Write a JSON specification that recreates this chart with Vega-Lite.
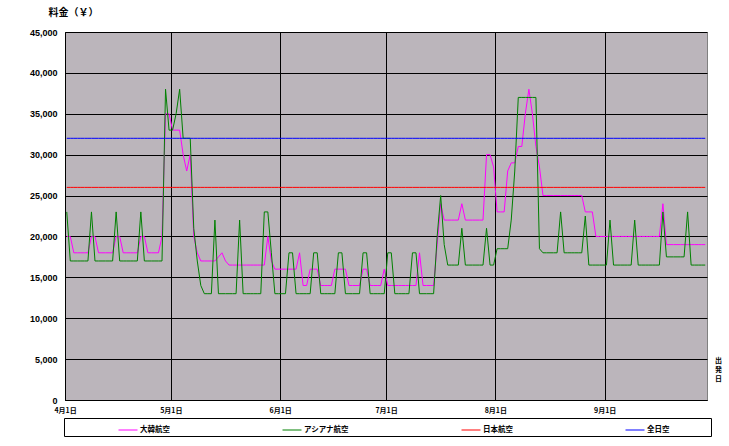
{
  "$schema": "https://vega.github.io/schema/vega-lite/v6.json",
  "autosize": "none",
  "width": 642,
  "height": 368,
  "padding": {"left": 65, "top": 32, "right": 22, "bottom": 46},
  "background": "white",
  "data": {"values": [
{"date":"2006/04/01","大韓航空":20000,"アシアナ航空":23000,"日本航空":26000,"全日空":32000},
{"date":"2006/04/02","大韓航空":20000,"アシアナ航空":17000,"日本航空":26000,"全日空":32000},
{"date":"2006/04/03","大韓航空":18000,"アシアナ航空":17000,"日本航空":26000,"全日空":32000},
{"date":"2006/04/04","大韓航空":18000,"アシアナ航空":17000,"日本航空":26000,"全日空":32000},
{"date":"2006/04/05","大韓航空":18000,"アシアナ航空":17000,"日本航空":26000,"全日空":32000},
{"date":"2006/04/06","大韓航空":18000,"アシアナ航空":17000,"日本航空":26000,"全日空":32000},
{"date":"2006/04/07","大韓航空":18000,"アシアナ航空":17000,"日本航空":26000,"全日空":32000},
{"date":"2006/04/08","大韓航空":20000,"アシアナ航空":23000,"日本航空":26000,"全日空":32000},
{"date":"2006/04/09","大韓航空":20000,"アシアナ航空":17000,"日本航空":26000,"全日空":32000},
{"date":"2006/04/10","大韓航空":18000,"アシアナ航空":17000,"日本航空":26000,"全日空":32000},
{"date":"2006/04/11","大韓航空":18000,"アシアナ航空":17000,"日本航空":26000,"全日空":32000},
{"date":"2006/04/12","大韓航空":18000,"アシアナ航空":17000,"日本航空":26000,"全日空":32000},
{"date":"2006/04/13","大韓航空":18000,"アシアナ航空":17000,"日本航空":26000,"全日空":32000},
{"date":"2006/04/14","大韓航空":18000,"アシアナ航空":17000,"日本航空":26000,"全日空":32000},
{"date":"2006/04/15","大韓航空":20000,"アシアナ航空":23000,"日本航空":26000,"全日空":32000},
{"date":"2006/04/16","大韓航空":20000,"アシアナ航空":17000,"日本航空":26000,"全日空":32000},
{"date":"2006/04/17","大韓航空":18000,"アシアナ航空":17000,"日本航空":26000,"全日空":32000},
{"date":"2006/04/18","大韓航空":18000,"アシアナ航空":17000,"日本航空":26000,"全日空":32000},
{"date":"2006/04/19","大韓航空":18000,"アシアナ航空":17000,"日本航空":26000,"全日空":32000},
{"date":"2006/04/20","大韓航空":18000,"アシアナ航空":17000,"日本航空":26000,"全日空":32000},
{"date":"2006/04/21","大韓航空":18000,"アシアナ航空":17000,"日本航空":26000,"全日空":32000},
{"date":"2006/04/22","大韓航空":20000,"アシアナ航空":23000,"日本航空":26000,"全日空":32000},
{"date":"2006/04/23","大韓航空":20000,"アシアナ航空":17000,"日本航空":26000,"全日空":32000},
{"date":"2006/04/24","大韓航空":18000,"アシアナ航空":17000,"日本航空":26000,"全日空":32000},
{"date":"2006/04/25","大韓航空":18000,"アシアナ航空":17000,"日本航空":26000,"全日空":32000},
{"date":"2006/04/26","大韓航空":18000,"アシアナ航空":17000,"日本航空":26000,"全日空":32000},
{"date":"2006/04/27","大韓航空":18000,"アシアナ航空":17000,"日本航空":26000,"全日空":32000},
{"date":"2006/04/28","大韓航空":20000,"アシアナ航空":17000,"日本航空":26000,"全日空":32000},
{"date":"2006/04/29","大韓航空":35000,"アシアナ航空":38000,"日本航空":26000,"全日空":32000},
{"date":"2006/04/30","大韓航空":35000,"アシアナ航空":33000,"日本航空":26000,"全日空":32000},
{"date":"2006/05/01","大韓航空":33000,"アシアナ航空":33000,"日本航空":26000,"全日空":32000},
{"date":"2006/05/02","大韓航空":33000,"アシアナ航空":35000,"日本航空":26000,"全日空":32000},
{"date":"2006/05/03","大韓航空":33000,"アシアナ航空":38000,"日本航空":26000,"全日空":32000},
{"date":"2006/05/04","大韓航空":30000,"アシアナ航空":32000,"日本航空":26000,"全日空":32000},
{"date":"2006/05/05","大韓航空":28000,"アシアナ航空":32000,"日本航空":26000,"全日空":32000},
{"date":"2006/05/06","大韓航空":30000,"アシアナ航空":32000,"日本航空":26000,"全日空":32000},
{"date":"2006/05/07","大韓航空":20000,"アシアナ航空":21000,"日本航空":26000,"全日空":32000},
{"date":"2006/05/08","大韓航空":18000,"アシアナ航空":17000,"日本航空":26000,"全日空":32000},
{"date":"2006/05/09","大韓航空":17000,"アシアナ航空":14000,"日本航空":26000,"全日空":32000},
{"date":"2006/05/10","大韓航空":17000,"アシアナ航空":13000,"日本航空":26000,"全日空":32000},
{"date":"2006/05/11","大韓航空":17000,"アシアナ航空":13000,"日本航空":26000,"全日空":32000},
{"date":"2006/05/12","大韓航空":17000,"アシアナ航空":13000,"日本航空":26000,"全日空":32000},
{"date":"2006/05/13","大韓航空":17000,"アシアナ航空":22000,"日本航空":26000,"全日空":32000},
{"date":"2006/05/14","大韓航空":17500,"アシアナ航空":13000,"日本航空":26000,"全日空":32000},
{"date":"2006/05/15","大韓航空":18000,"アシアナ航空":13000,"日本航空":26000,"全日空":32000},
{"date":"2006/05/16","大韓航空":17000,"アシアナ航空":13000,"日本航空":26000,"全日空":32000},
{"date":"2006/05/17","大韓航空":16500,"アシアナ航空":13000,"日本航空":26000,"全日空":32000},
{"date":"2006/05/18","大韓航空":16500,"アシアナ航空":13000,"日本航空":26000,"全日空":32000},
{"date":"2006/05/19","大韓航空":16500,"アシアナ航空":13000,"日本航空":26000,"全日空":32000},
{"date":"2006/05/20","大韓航空":16500,"アシアナ航空":22000,"日本航空":26000,"全日空":32000},
{"date":"2006/05/21","大韓航空":16500,"アシアナ航空":13000,"日本航空":26000,"全日空":32000},
{"date":"2006/05/22","大韓航空":16500,"アシアナ航空":13000,"日本航空":26000,"全日空":32000},
{"date":"2006/05/23","大韓航空":16500,"アシアナ航空":13000,"日本航空":26000,"全日空":32000},
{"date":"2006/05/24","大韓航空":16500,"アシアナ航空":13000,"日本航空":26000,"全日空":32000},
{"date":"2006/05/25","大韓航空":16500,"アシアナ航空":13000,"日本航空":26000,"全日空":32000},
{"date":"2006/05/26","大韓航空":16500,"アシアナ航空":13000,"日本航空":26000,"全日空":32000},
{"date":"2006/05/27","大韓航空":16500,"アシアナ航空":23000,"日本航空":26000,"全日空":32000},
{"date":"2006/05/28","大韓航空":20000,"アシアナ航空":23000,"日本航空":26000,"全日空":32000},
{"date":"2006/05/29","大韓航空":17000,"アシアナ航空":18000,"日本航空":26000,"全日空":32000},
{"date":"2006/05/30","大韓航空":16000,"アシアナ航空":13000,"日本航空":26000,"全日空":32000},
{"date":"2006/05/31","大韓航空":16000,"アシアナ航空":13000,"日本航空":26000,"全日空":32000},
{"date":"2006/06/01","大韓航空":16000,"アシアナ航空":13000,"日本航空":26000,"全日空":32000},
{"date":"2006/06/02","大韓航空":16000,"アシアナ航空":13000,"日本航空":26000,"全日空":32000},
{"date":"2006/06/03","大韓航空":16000,"アシアナ航空":18000,"日本航空":26000,"全日空":32000},
{"date":"2006/06/04","大韓航空":16000,"アシアナ航空":18000,"日本航空":26000,"全日空":32000},
{"date":"2006/06/05","大韓航空":16000,"アシアナ航空":13000,"日本航空":26000,"全日空":32000},
{"date":"2006/06/06","大韓航空":18000,"アシアナ航空":13000,"日本航空":26000,"全日空":32000},
{"date":"2006/06/07","大韓航空":14000,"アシアナ航空":13000,"日本航空":26000,"全日空":32000},
{"date":"2006/06/08","大韓航空":14000,"アシアナ航空":13000,"日本航空":26000,"全日空":32000},
{"date":"2006/06/09","大韓航空":16000,"アシアナ航空":13000,"日本航空":26000,"全日空":32000},
{"date":"2006/06/10","大韓航空":16000,"アシアナ航空":18000,"日本航空":26000,"全日空":32000},
{"date":"2006/06/11","大韓航空":16000,"アシアナ航空":18000,"日本航空":26000,"全日空":32000},
{"date":"2006/06/12","大韓航空":14000,"アシアナ航空":13000,"日本航空":26000,"全日空":32000},
{"date":"2006/06/13","大韓航空":14000,"アシアナ航空":13000,"日本航空":26000,"全日空":32000},
{"date":"2006/06/14","大韓航空":14000,"アシアナ航空":13000,"日本航空":26000,"全日空":32000},
{"date":"2006/06/15","大韓航空":14000,"アシアナ航空":13000,"日本航空":26000,"全日空":32000},
{"date":"2006/06/16","大韓航空":16000,"アシアナ航空":13000,"日本航空":26000,"全日空":32000},
{"date":"2006/06/17","大韓航空":16000,"アシアナ航空":18000,"日本航空":26000,"全日空":32000},
{"date":"2006/06/18","大韓航空":16000,"アシアナ航空":18000,"日本航空":26000,"全日空":32000},
{"date":"2006/06/19","大韓航空":16000,"アシアナ航空":13000,"日本航空":26000,"全日空":32000},
{"date":"2006/06/20","大韓航空":14000,"アシアナ航空":13000,"日本航空":26000,"全日空":32000},
{"date":"2006/06/21","大韓航空":14000,"アシアナ航空":13000,"日本航空":26000,"全日空":32000},
{"date":"2006/06/22","大韓航空":14000,"アシアナ航空":13000,"日本航空":26000,"全日空":32000},
{"date":"2006/06/23","大韓航空":14000,"アシアナ航空":13000,"日本航空":26000,"全日空":32000},
{"date":"2006/06/24","大韓航空":16000,"アシアナ航空":18000,"日本航空":26000,"全日空":32000},
{"date":"2006/06/25","大韓航空":16000,"アシアナ航空":18000,"日本航空":26000,"全日空":32000},
{"date":"2006/06/26","大韓航空":14000,"アシアナ航空":13000,"日本航空":26000,"全日空":32000},
{"date":"2006/06/27","大韓航空":14000,"アシアナ航空":13000,"日本航空":26000,"全日空":32000},
{"date":"2006/06/28","大韓航空":14000,"アシアナ航空":13000,"日本航空":26000,"全日空":32000},
{"date":"2006/06/29","大韓航空":14000,"アシアナ航空":13000,"日本航空":26000,"全日空":32000},
{"date":"2006/06/30","大韓航空":16000,"アシアナ航空":13000,"日本航空":26000,"全日空":32000},
{"date":"2006/07/01","大韓航空":14000,"アシアナ航空":18000,"日本航空":26000,"全日空":32000},
{"date":"2006/07/02","大韓航空":14000,"アシアナ航空":18000,"日本航空":26000,"全日空":32000},
{"date":"2006/07/03","大韓航空":14000,"アシアナ航空":13000,"日本航空":26000,"全日空":32000},
{"date":"2006/07/04","大韓航空":14000,"アシアナ航空":13000,"日本航空":26000,"全日空":32000},
{"date":"2006/07/05","大韓航空":14000,"アシアナ航空":13000,"日本航空":26000,"全日空":32000},
{"date":"2006/07/06","大韓航空":14000,"アシアナ航空":13000,"日本航空":26000,"全日空":32000},
{"date":"2006/07/07","大韓航空":14000,"アシアナ航空":13000,"日本航空":26000,"全日空":32000},
{"date":"2006/07/08","大韓航空":14000,"アシアナ航空":18000,"日本航空":26000,"全日空":32000},
{"date":"2006/07/09","大韓航空":14000,"アシアナ航空":18000,"日本航空":26000,"全日空":32000},
{"date":"2006/07/10","大韓航空":18000,"アシアナ航空":13000,"日本航空":26000,"全日空":32000},
{"date":"2006/07/11","大韓航空":14000,"アシアナ航空":13000,"日本航空":26000,"全日空":32000},
{"date":"2006/07/12","大韓航空":14000,"アシアナ航空":13000,"日本航空":26000,"全日空":32000},
{"date":"2006/07/13","大韓航空":14000,"アシアナ航空":13000,"日本航空":26000,"全日空":32000},
{"date":"2006/07/14","大韓航空":14000,"アシアナ航空":13000,"日本航空":26000,"全日空":32000},
{"date":"2006/07/15","大韓航空":19000,"アシアナ航空":20000,"日本航空":26000,"全日空":32000},
{"date":"2006/07/16","大韓航空":24000,"アシアナ航空":25000,"日本航空":26000,"全日空":32000},
{"date":"2006/07/17","大韓航空":22000,"アシアナ航空":19000,"日本航空":26000,"全日空":32000},
{"date":"2006/07/18","大韓航空":22000,"アシアナ航空":16500,"日本航空":26000,"全日空":32000},
{"date":"2006/07/19","大韓航空":22000,"アシアナ航空":16500,"日本航空":26000,"全日空":32000},
{"date":"2006/07/20","大韓航空":22000,"アシアナ航空":16500,"日本航空":26000,"全日空":32000},
{"date":"2006/07/21","大韓航空":22000,"アシアナ航空":16500,"日本航空":26000,"全日空":32000},
{"date":"2006/07/22","大韓航空":24000,"アシアナ航空":21000,"日本航空":26000,"全日空":32000},
{"date":"2006/07/23","大韓航空":22000,"アシアナ航空":16500,"日本航空":26000,"全日空":32000},
{"date":"2006/07/24","大韓航空":22000,"アシアナ航空":16500,"日本航空":26000,"全日空":32000},
{"date":"2006/07/25","大韓航空":22000,"アシアナ航空":16500,"日本航空":26000,"全日空":32000},
{"date":"2006/07/26","大韓航空":22000,"アシアナ航空":16500,"日本航空":26000,"全日空":32000},
{"date":"2006/07/27","大韓航空":22000,"アシアナ航空":16500,"日本航空":26000,"全日空":32000},
{"date":"2006/07/28","大韓航空":22000,"アシアナ航空":16500,"日本航空":26000,"全日空":32000},
{"date":"2006/07/29","大韓航空":30000,"アシアナ航空":21000,"日本航空":26000,"全日空":32000},
{"date":"2006/07/30","大韓航空":30000,"アシアナ航空":16500,"日本航空":26000,"全日空":32000},
{"date":"2006/07/31","大韓航空":28500,"アシアナ航空":16500,"日本航空":26000,"全日空":32000},
{"date":"2006/08/01","大韓航空":23000,"アシアナ航空":18500,"日本航空":26000,"全日空":32000},
{"date":"2006/08/02","大韓航空":23000,"アシアナ航空":18500,"日本航空":26000,"全日空":32000},
{"date":"2006/08/03","大韓航空":23000,"アシアナ航空":18500,"日本航空":26000,"全日空":32000},
{"date":"2006/08/04","大韓航空":28000,"アシアナ航空":18500,"日本航空":26000,"全日空":32000},
{"date":"2006/08/05","大韓航空":29000,"アシアナ航空":22000,"日本航空":26000,"全日空":32000},
{"date":"2006/08/06","大韓航空":29000,"アシアナ航空":28000,"日本航空":26000,"全日空":32000},
{"date":"2006/08/07","大韓航空":31000,"アシアナ航空":37000,"日本航空":26000,"全日空":32000},
{"date":"2006/08/08","大韓航空":31000,"アシアナ航空":37000,"日本航空":26000,"全日空":32000},
{"date":"2006/08/09","大韓航空":35000,"アシアナ航空":37000,"日本航空":26000,"全日空":32000},
{"date":"2006/08/10","大韓航空":38000,"アシアナ航空":37000,"日本航空":26000,"全日空":32000},
{"date":"2006/08/11","大韓航空":35000,"アシアナ航空":37000,"日本航空":26000,"全日空":32000},
{"date":"2006/08/12","大韓航空":31000,"アシアナ航空":37000,"日本航空":26000,"全日空":32000},
{"date":"2006/08/13","大韓航空":28500,"アシアナ航空":18500,"日本航空":26000,"全日空":32000},
{"date":"2006/08/14","大韓航空":25000,"アシアナ航空":18000,"日本航空":26000,"全日空":32000},
{"date":"2006/08/15","大韓航空":25000,"アシアナ航空":18000,"日本航空":26000,"全日空":32000},
{"date":"2006/08/16","大韓航空":25000,"アシアナ航空":18000,"日本航空":26000,"全日空":32000},
{"date":"2006/08/17","大韓航空":25000,"アシアナ航空":18000,"日本航空":26000,"全日空":32000},
{"date":"2006/08/18","大韓航空":25000,"アシアナ航空":18000,"日本航空":26000,"全日空":32000},
{"date":"2006/08/19","大韓航空":25000,"アシアナ航空":23000,"日本航空":26000,"全日空":32000},
{"date":"2006/08/20","大韓航空":25000,"アシアナ航空":18000,"日本航空":26000,"全日空":32000},
{"date":"2006/08/21","大韓航空":25000,"アシアナ航空":18000,"日本航空":26000,"全日空":32000},
{"date":"2006/08/22","大韓航空":25000,"アシアナ航空":18000,"日本航空":26000,"全日空":32000},
{"date":"2006/08/23","大韓航空":25000,"アシアナ航空":18000,"日本航空":26000,"全日空":32000},
{"date":"2006/08/24","大韓航空":25000,"アシアナ航空":18000,"日本航空":26000,"全日空":32000},
{"date":"2006/08/25","大韓航空":25000,"アシアナ航空":18000,"日本航空":26000,"全日空":32000},
{"date":"2006/08/26","大韓航空":23000,"アシアナ航空":22500,"日本航空":26000,"全日空":32000},
{"date":"2006/08/27","大韓航空":23000,"アシアナ航空":16500,"日本航空":26000,"全日空":32000},
{"date":"2006/08/28","大韓航空":23000,"アシアナ航空":16500,"日本航空":26000,"全日空":32000},
{"date":"2006/08/29","大韓航空":20000,"アシアナ航空":16500,"日本航空":26000,"全日空":32000},
{"date":"2006/08/30","大韓航空":20000,"アシアナ航空":16500,"日本航空":26000,"全日空":32000},
{"date":"2006/08/31","大韓航空":20000,"アシアナ航空":16500,"日本航空":26000,"全日空":32000},
{"date":"2006/09/01","大韓航空":20000,"アシアナ航空":16500,"日本航空":26000,"全日空":32000},
{"date":"2006/09/02","大韓航空":20000,"アシアナ航空":22000,"日本航空":26000,"全日空":32000},
{"date":"2006/09/03","大韓航空":20000,"アシアナ航空":16500,"日本航空":26000,"全日空":32000},
{"date":"2006/09/04","大韓航空":20000,"アシアナ航空":16500,"日本航空":26000,"全日空":32000},
{"date":"2006/09/05","大韓航空":20000,"アシアナ航空":16500,"日本航空":26000,"全日空":32000},
{"date":"2006/09/06","大韓航空":20000,"アシアナ航空":16500,"日本航空":26000,"全日空":32000},
{"date":"2006/09/07","大韓航空":20000,"アシアナ航空":16500,"日本航空":26000,"全日空":32000},
{"date":"2006/09/08","大韓航空":20000,"アシアナ航空":16500,"日本航空":26000,"全日空":32000},
{"date":"2006/09/09","大韓航空":20000,"アシアナ航空":22000,"日本航空":26000,"全日空":32000},
{"date":"2006/09/10","大韓航空":20000,"アシアナ航空":16500,"日本航空":26000,"全日空":32000},
{"date":"2006/09/11","大韓航空":20000,"アシアナ航空":16500,"日本航空":26000,"全日空":32000},
{"date":"2006/09/12","大韓航空":20000,"アシアナ航空":16500,"日本航空":26000,"全日空":32000},
{"date":"2006/09/13","大韓航空":20000,"アシアナ航空":16500,"日本航空":26000,"全日空":32000},
{"date":"2006/09/14","大韓航空":20000,"アシアナ航空":16500,"日本航空":26000,"全日空":32000},
{"date":"2006/09/15","大韓航空":20000,"アシアナ航空":16500,"日本航空":26000,"全日空":32000},
{"date":"2006/09/16","大韓航空":20000,"アシアナ航空":16500,"日本航空":26000,"全日空":32000},
{"date":"2006/09/17","大韓航空":24000,"アシアナ航空":23000,"日本航空":26000,"全日空":32000},
{"date":"2006/09/18","大韓航空":19000,"アシアナ航空":17500,"日本航空":26000,"全日空":32000},
{"date":"2006/09/19","大韓航空":19000,"アシアナ航空":17500,"日本航空":26000,"全日空":32000},
{"date":"2006/09/20","大韓航空":19000,"アシアナ航空":17500,"日本航空":26000,"全日空":32000},
{"date":"2006/09/21","大韓航空":19000,"アシアナ航空":17500,"日本航空":26000,"全日空":32000},
{"date":"2006/09/22","大韓航空":19000,"アシアナ航空":17500,"日本航空":26000,"全日空":32000},
{"date":"2006/09/23","大韓航空":19000,"アシアナ航空":17500,"日本航空":26000,"全日空":32000},
{"date":"2006/09/24","大韓航空":19000,"アシアナ航空":23000,"日本航空":26000,"全日空":32000},
{"date":"2006/09/25","大韓航空":19000,"アシアナ航空":16500,"日本航空":26000,"全日空":32000},
{"date":"2006/09/26","大韓航空":19000,"アシアナ航空":16500,"日本航空":26000,"全日空":32000},
{"date":"2006/09/27","大韓航空":19000,"アシアナ航空":16500,"日本航空":26000,"全日空":32000},
{"date":"2006/09/28","大韓航空":19000,"アシアナ航空":16500,"日本航空":26000,"全日空":32000},
{"date":"2006/09/29","大韓航空":19000,"アシアナ航空":16500,"日本航空":26000,"全日空":32000}
  ]},
  "transform": [
    {"fold": ["大韓航空", "アシアナ航空", "日本航空", "全日空"], "as": ["airline", "fare"]}
  ],
  "mark": {"type": "line", "strokeWidth": 1, "interpolate": "linear"},
  "encoding": {
    "x": {
      "field": "date", "type": "temporal", "timeUnit": "yearmonthdate", "bandPosition": 0.5,
      "scale": {"domain": [{"year": 2006, "month": 4, "date": 1}, {"year": 2006, "month": 9, "date": 30}], "nice": false},
      "axis": {
        "values": [{"year": 2006, "month": 4, "date": 1}, {"year": 2006, "month": 5, "date": 1}, {"year": 2006, "month": 6, "date": 1}, {"year": 2006, "month": 7, "date": 1}, {"year": 2006, "month": 8, "date": 1}, {"year": 2006, "month": 9, "date": 1}],
        "format": "%-m月%-d日",
        "labelFlush": false,
        "labelOverlap": false,
        "labelFont": "Noto Sans CJK JP", "labelFontSize": 7, "labelFontWeight": "bold", "labelPadding": 6,
        "title": ["出", "発", "日"],
        "titleFont": "Noto Sans CJK JP", "titleFontSize": 7, "titleFontWeight": "bold", "titleLineHeight": 9,
        "titleX": 653, "titleY": -44, "titleAlign": "center", "titleBaseline": "top", "titleAngle": 0
      }
    },
    "y": {
      "field": "fare", "type": "quantitative",
      "scale": {"domain": [0, 45000], "nice": false},
      "axis": {
        "values": [0, 5000, 10000, 15000, 20000, 25000, 30000, 35000, 40000, 45000],
        "format": ",.0f",
        "labelFont": "Liberation Sans", "labelFontSize": 9, "labelFontWeight": "bold", "labelPadding": 8,
        "title": "料金（￥）",
        "titleFont": "Noto Sans CJK JP", "titleFontSize": 10, "titleFontWeight": "bold",
        "titleAngle": 0, "titleAlign": "left", "titleBaseline": "middle", "titleX": -17, "titleY": -20
      }
    },
    "color": {
      "field": "airline", "type": "nominal",
      "scale": {"domain": ["大韓航空", "アシアナ航空", "日本航空", "全日空"], "range": ["#ff00ff", "#008000", "#ff0000", "#0000ff"]},
      "legend": {
        "title": " ", "titleOrient": "right", "titlePadding": 40, "titleFontSize": 7,
        "orient": "none", "legendX": -1, "legendY": 386,
        "direction": "horizontal", "columns": 4, "gridAlign": "none",
        "symbolType": "stroke", "symbolSize": 361, "symbolStrokeWidth": 1, "symbolOffset": 52,
        "labelFont": "Noto Sans CJK JP", "labelFontSize": 7.5, "labelFontWeight": "bold", "labelColor": "black", "labelOffset": 2,
        "columnPadding": 60, "padding": 2, "strokeColor": "black", "fillColor": "white"
      }
    }
  },
  "config": {
    "view": {"fill": "#bbb5bb", "stroke": "#808080"},
    "axis": {"gridColor": "black", "gridOpacity": 1, "gridWidth": 1, "domainColor": "black", "ticks": false, "labelColor": "black", "titleColor": "black", "grid": true}
  }
}
